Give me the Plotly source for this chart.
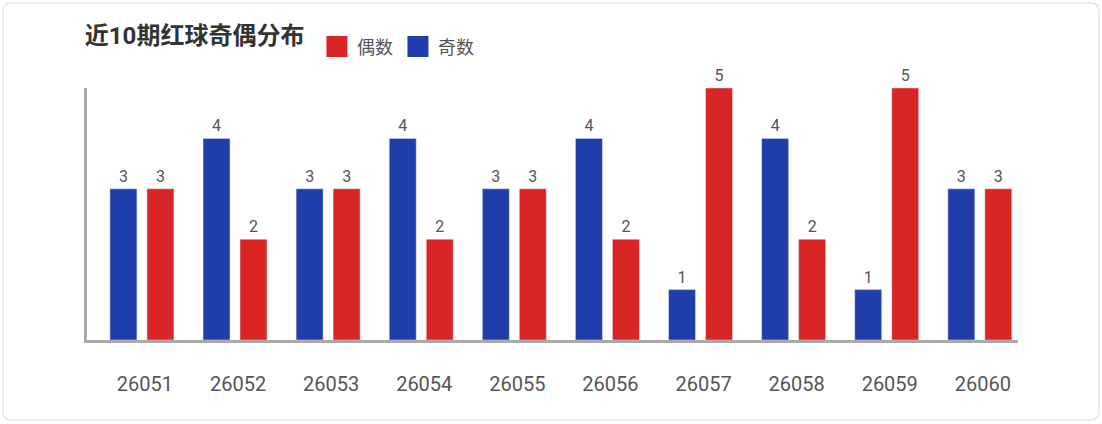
import plotly.graph_objects as go

# 近10期红球奇偶分布
periods = ["26051", "26052", "26053", "26054", "26055",
           "26056", "26057", "26058", "26059", "26060"]
odd_counts = [3, 4, 3, 4, 3, 4, 1, 4, 1, 3]    # 奇数
even_counts = [3, 2, 3, 2, 3, 2, 5, 2, 5, 3]   # 偶数

BLUE = "#1f3ea9"
RED = "#d92526"
FONT = "Roboto, 'Noto Sans CJK SC', sans-serif"

fig = go.Figure()

fig.add_trace(go.Bar(
    x=periods, y=odd_counts, name="奇数",
    marker=dict(color=BLUE),
    text=odd_counts, textposition="outside",
    textfont=dict(size=16, color="#555555", family=FONT),
    cliponaxis=False, showlegend=False,
))
fig.add_trace(go.Bar(
    x=periods, y=even_counts, name="偶数",
    marker=dict(color=RED),
    text=even_counts, textposition="outside",
    textfont=dict(size=16, color="#555555", family=FONT),
    cliponaxis=False, showlegend=False,
))

# legend entries with bigger squares
for name, color, rank in [("偶数", RED, 1), ("奇数", BLUE, 2)]:
    fig.add_trace(go.Scatter(
        x=[periods[0]], y=[None], mode="markers", name=name,
        marker=dict(symbol="square", size=16, color=color,
                    line=dict(color=color, width=5)),
        legendrank=rank, showlegend=True, hoverinfo="skip",
    ))

# rounded card border (paper units, plot area is 931x252 px)
x0, x1, y0, y1 = -0.0902, 1.087, -0.317, 1.337
rx, ry = 0.009, 0.033
card = (f"M{x0 + rx},{y1} L{x1 - rx},{y1} Q{x1},{y1} {x1},{y1 - ry} "
        f"L{x1},{y0 + ry} Q{x1},{y0} {x1 - rx},{y0} "
        f"L{x0 + rx},{y0} Q{x0},{y0} {x0},{y0 + ry} "
        f"L{x0},{y1 - ry} Q{x0},{y1} {x0 + rx},{y1} Z")
fig.add_shape(type="path", xref="paper", yref="paper", path=card,
              line=dict(color="#e6e6e6", width=1.5), layer="below")

fig.update_layout(
    width=1102, height=424,
    margin=dict(l=87, r=84, t=88, b=84),
    paper_bgcolor="white", plot_bgcolor="white",
    font=dict(family=FONT, color="#555555"),
    title=dict(
        text="<b>近10期红球奇偶分布</b>",
        font=dict(size=24, color="#333333", family=FONT),
        x=0.077, xanchor="left", y=0.915, yanchor="middle",
        xref="container", yref="container",
    ),
    barmode="group", bargap=0.205, bargroupgap=0.27,
    legend=dict(
        orientation="h", x=0.247, xanchor="left",
        y=1.163, yanchor="middle",
        font=dict(size=18, color="#555555", family=FONT),
        bgcolor="rgba(0,0,0,0)", traceorder="normal",
    ),
    showlegend=True,
)

fig.update_xaxes(
    type="category", range=[-0.59, 9.41],
    showline=True, linecolor="#aaaaaa", linewidth=2.5,
    showgrid=False, zeroline=False, ticks="",
    ticklabelstandoff=24, ticklabelshift=3,
    tickfont=dict(size=20, color="#555555", family=FONT),
)
fig.update_yaxes(
    range=[0, 5], showline=True, linecolor="#aaaaaa", linewidth=2.5,
    showgrid=False, zeroline=False, showticklabels=False, ticks="",
)

# page has no margin so the 1102x424 figure fills the window
fig.write_html("out.html", config={"displayModeBar": False},
               post_script="document.body.style.margin='0px';")
